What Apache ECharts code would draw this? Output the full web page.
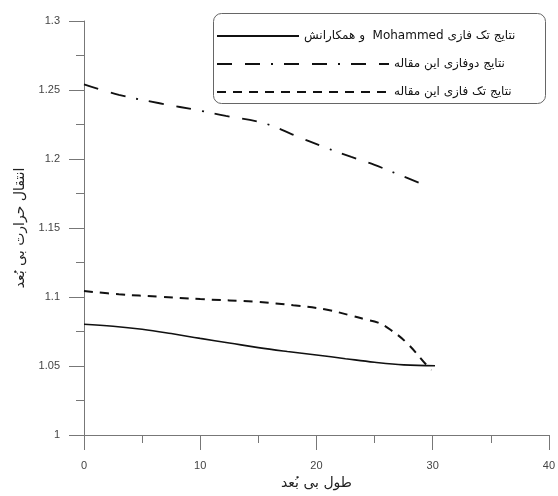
<!DOCTYPE html>
<html><head><meta charset="utf-8">
<script src="https://cdn.jsdelivr.net/npm/echarts@6/dist/echarts.min.js"></script>
<style>html,body{margin:0;padding:0;background:#fff}#c{width:558px;height:496px}</style>
</head><body><div id="c"></div>
<script>
const seriesNames = ['\u202Bنتایج تک فازی Mohammed  و همکارانش\u202C', 'نتایج دوفازی این مقاله', 'نتایج تک فازی این مقاله'];
const xAxisTitle = 'طول بی بُعد';
const yAxisTitle = 'انتقال حرارت بی بُعد';

const mohX = [0, 2.5, 5, 7.5, 10, 12.5, 15, 17.5, 20, 22.5, 25, 27.5, 30.2];
const mohY = [1.0802, 1.0788, 1.0766, 1.0735, 1.0700, 1.0667, 1.0633, 1.0605, 1.0580, 1.0553, 1.0527, 1.0508, 1.0502];

const twoX = [0, 3, 6.5, 10, 12.2, 15, 16.5, 17.9, 20.7, 23, 25, 27, 29.3];
const twoY = [1.2541, 1.2465, 1.2404, 1.2350, 1.2312, 1.2270, 1.2230, 1.2179, 1.2085, 1.2015, 1.1957, 1.1890, 1.1812];

const oneX = [0, 3, 6.5, 10, 15, 18, 20.7, 23, 24.2, 25.3, 26.4, 27.8, 29.6, 29.9];
const oneY = [1.1043, 1.1020, 1.1002, 1.0985, 1.0964, 1.0940, 1.0911, 1.0865, 1.0838, 1.0814, 1.0761, 1.0665, 1.0495, 1.0470];

const xTicks = {min: 0, max: 40, interval: 10};
const yTicks = {min: 1, max: 1.3, interval: 0.05};

const pairs = (xs, ys) => xs.map((x, i) => [x, ys[i]]);
const chart = echarts.init(document.getElementById('c'));
const axisColor = '#777';
const lblColor = '#444';
const fontFam = 'Liberation Sans, DejaVu Sans, sans-serif';
const legText = {fontSize: 12, color: '#111', fontFamily: 'DejaVu Sans'};
chart.setOption({
  animation: false,
  backgroundColor: '#fff',
  grid: {left: 84, right: 6, top: 21, bottom: 61},
  xAxis: {
    type: 'value', min: xTicks.min, max: xTicks.max, interval: xTicks.interval,
    name: xAxisTitle, nameLocation: 'middle', nameGap: 41,
    nameTextStyle: {color: '#222', fontSize: 14, fontFamily: 'DejaVu Sans'},
    axisLine: {onZero: false, lineStyle: {color: axisColor, width: 1}},
    axisTick: {length: 15, lineStyle: {color: axisColor}},
    minorTick: {show: true, splitNumber: 2, length: 8, lineStyle: {color: axisColor}},
    axisLabel: {margin: 25, color: lblColor, fontSize: 11, fontFamily: fontFam},
    splitLine: {show: false}
  },
  yAxis: {
    type: 'value', min: yTicks.min, max: yTicks.max, interval: yTicks.interval,
    name: yAxisTitle, nameLocation: 'middle', nameGap: 52, nameRotate: 90,
    nameTextStyle: {color: '#222', fontSize: 14, fontFamily: 'DejaVu Sans'},
    axisLine: {show: true, onZero: false, lineStyle: {color: axisColor, width: 1}},
    axisTick: {show: true, length: 15, lineStyle: {color: axisColor}},
    minorTick: {show: true, splitNumber: 2, length: 8, lineStyle: {color: axisColor}},
    axisLabel: {margin: 24, color: lblColor, fontSize: 11, fontFamily: fontFam},
    splitLine: {show: false}
  },
  graphic: [{
    type: 'rect', left: 213, top: 13, silent: true, z: 0,
    shape: {width: 332, height: 90, r: 8},
    style: {fill: '#fff', stroke: '#666', lineWidth: 1}
  }],
  legend: [
    {data: [seriesNames[0]], left: 211, top: 25, itemWidth: 82, itemHeight: 14,
     itemStyle: {opacity: 0}, textStyle: legText},
    {data: [seriesNames[1]], left: 211, top: 53, itemWidth: 172, itemHeight: 14,
     itemStyle: {opacity: 0}, textStyle: legText},
    {data: [seriesNames[2]], left: 211, top: 81, itemWidth: 172, itemHeight: 14,
     itemStyle: {opacity: 0}, textStyle: legText}
  ],
  series: [
    {name: seriesNames[0], type: 'line', data: pairs(mohX, mohY), symbol: 'none', smooth: 0.4,
     lineStyle: {color: '#111', width: 1.6, type: 'solid'}, itemStyle: {color: '#111'}},
    {name: seriesNames[1], type: 'line', data: pairs(twoX, twoY), symbol: 'none', smooth: 0.4,
     lineStyle: {color: '#111', width: 1.8, type: [15, 13, 15, 11, 2, 11]}, itemStyle: {color: '#111'}},
    {name: seriesNames[2], type: 'line', data: pairs(oneX, oneY), symbol: 'none', smooth: 0.4,
     lineStyle: {color: '#111', width: 2, type: [9, 7]}, itemStyle: {color: '#111'}}
  ]
});
</script></body></html>
